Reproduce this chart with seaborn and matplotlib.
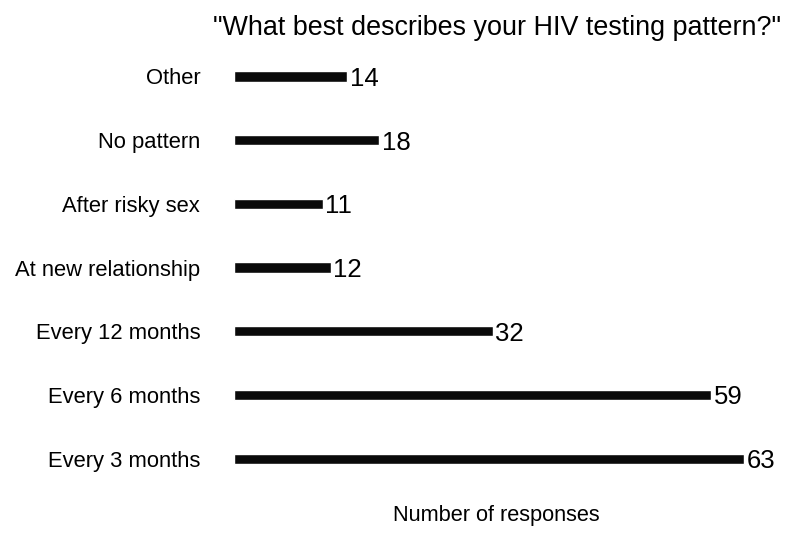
import matplotlib
matplotlib.use("Agg")
import matplotlib.pyplot as plt
import seaborn as sns
import pandas as pd

categories = ["Other", "No pattern", "After risky sex", "At new relationship",
              "Every 12 months", "Every 6 months", "Every 3 months"]
responses = [14, 18, 11, 12, 32, 59, 63]
title = '"What best describes your HIV testing pattern?"'
xlabel = "Number of responses"

sns.set_theme(style="white")
plt.rcParams["font.family"] = ["Liberation Sans", "DejaVu Sans"]

df = pd.DataFrame({"category": categories, "responses": responses})

fig = plt.figure(figsize=(8, 5.33), dpi=100)
ax = fig.add_axes([0.2919, 0.0797, 0.6581, 0.8366])

sns.barplot(data=df, x="responses", y="category", orient="h", color="#0a0a0a",
            saturation=1, width=0.16, ax=ax, order=categories)

ax.set_xlim(0, 65)
ax.set_ylim(6.5, -0.5)
for s in ax.spines.values():
    s.set_visible(False)
ax.set_xticks([])
ax.tick_params(axis="y", length=0, pad=24, labelsize=15.8, labelcolor="black")
ax.set_ylabel("")
ax.set_xlabel(xlabel, fontsize=15.7, color="black")
ax.xaxis.set_label_coords(0.5, -0.055)
ax.xaxis.label.set_va("center")

ax.set_title(title, fontsize=19.4, color="black", y=1.037, pad=0, va="center")

labels = ax.bar_label(ax.containers[0], padding=2, fontsize=18.5, color="black")
for t in labels:
    t.set_va("center_baseline")

fig.savefig("out.png", dpi=100, facecolor="white")
